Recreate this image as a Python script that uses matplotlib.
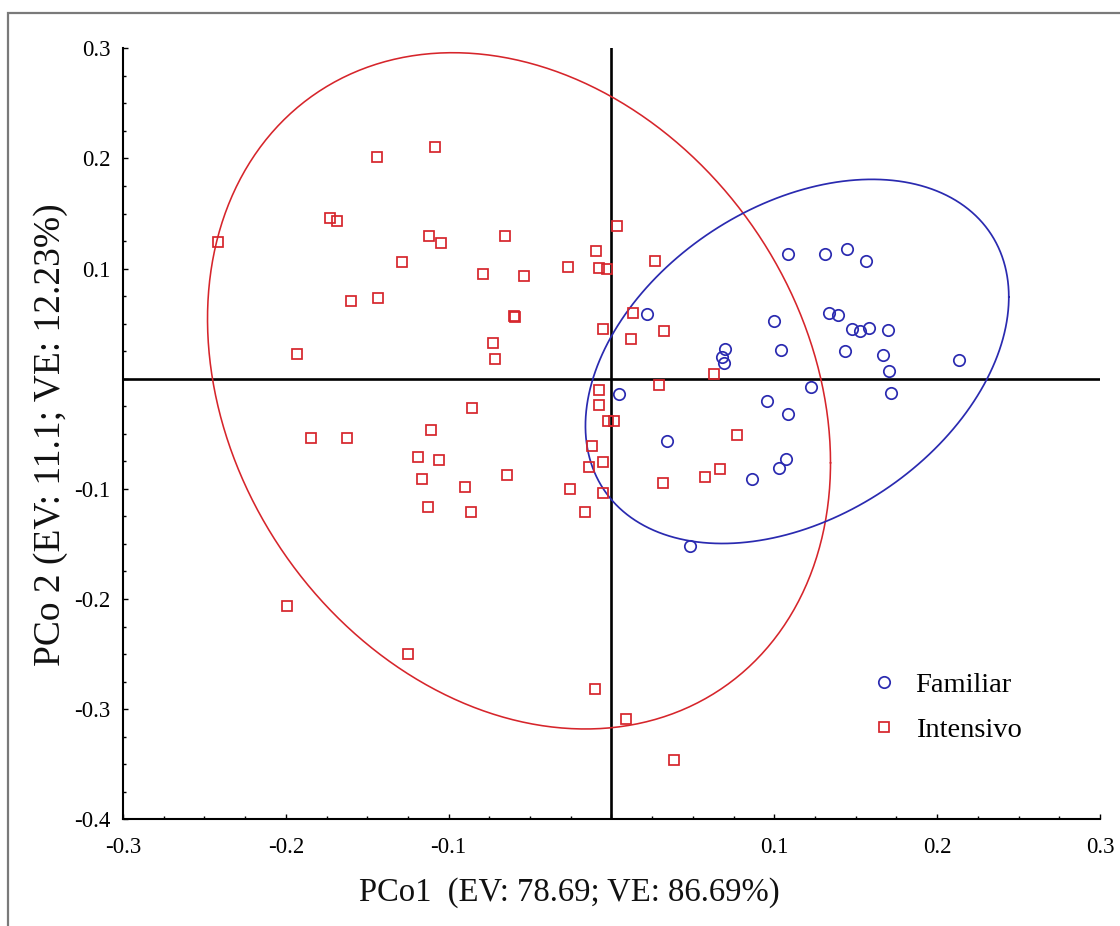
import numpy as np
import matplotlib
matplotlib.use("Agg")
import matplotlib.pyplot as plt
from matplotlib.patches import Rectangle

# ---------------- data ----------------
intensivo_x = [-0.2414, -0.1990, -0.1726, -0.1685, -0.1442, -0.1085, -0.1929, -0.1843,
               -0.1622, -0.1601, -0.1436, -0.1287, -0.1122, -0.1049, -0.0788, -0.0656,
               -0.0539, -0.0599, -0.0593, -0.0728, -0.0713, -0.0854, -0.1110, -0.1190,
               -0.1060, -0.1163, -0.1125, -0.0902, -0.0860, -0.0641, -0.1247, -0.0266,
               -0.0094, -0.0078, -0.0026, 0.0031, 0.0270, 0.0132, -0.0053, 0.0118,
               0.0324, 0.0290, 0.0631, -0.0077, -0.0078, -0.0023, 0.0014, -0.0119,
               -0.0139, -0.0054, -0.0252, -0.0053, -0.0165, 0.0318, 0.0573, 0.0668,
               0.0772, -0.0104, 0.0092, 0.0385]
intensivo_y = [0.1238, -0.2064, 0.1459, 0.1432, 0.2010, 0.2106, 0.0224, -0.0538,
               -0.0538, 0.0705, 0.0735, 0.1060, 0.1298, 0.1229, 0.0955, 0.1298,
               0.0935, 0.0569, 0.0560, 0.0326, 0.0182, -0.0268, -0.0463, -0.0714,
               -0.0738, -0.0908, -0.1167, -0.0981, -0.1208, -0.0874, -0.2500, 0.1016,
               0.1159, 0.1008, 0.0996, 0.1384, 0.1071, 0.0601, 0.0450, 0.0360,
               0.0436, -0.0059, 0.0044, -0.0098, -0.0236, -0.0387, -0.0387, -0.0614,
               -0.0799, -0.0758, -0.0999, -0.1038, -0.1212, -0.0950, -0.0893, -0.0820,
               -0.0514, -0.2820, -0.3090, -0.3459]

familiar_x = [0.0215, 0.0045, 0.0338, 0.0485, 0.0696, 0.0676, 0.0690, 0.0860,
              0.0952, 0.0996, 0.1041, 0.1086, 0.1084, 0.1028, 0.1073, 0.1224,
              0.1310, 0.1333, 0.1390, 0.1448, 0.1437, 0.1476, 0.1525, 0.1579,
              0.1562, 0.1666, 0.1697, 0.1706, 0.1714, 0.2133]
familiar_y = [0.0589, -0.0143, -0.0566, -0.1516, 0.0270, 0.0200, 0.0143, -0.0911,
              -0.0198, 0.0521, 0.0262, -0.0317, 0.1128, -0.0808, -0.0726, -0.0074,
              0.1135, 0.0599, 0.0578, 0.1175, 0.0254, 0.0449, 0.0430, 0.0460,
              0.1069, 0.0215, 0.0439, 0.0067, -0.0127, 0.0173]

# ellipse descriptors: centre, half-extent in x, half-extent in y, xy-coupling
red_ellipse = dict(cx=-0.0568, cy=-0.0110, sx=0.1913, sy=0.3070, sxy=-0.0125)
blue_ellipse = dict(cx=0.1140, cy=0.0157, sx=0.1300, sy=0.1653, sxy=0.0076)

xticks = [-0.3, -0.2, -0.1, 0.0, 0.1, 0.2, 0.3]
xticklabels = ["-0.3", "-0.2", "-0.1", "", "0.1", "0.2", "0.3"]
yticks = [-0.4, -0.3, -0.2, -0.1, 0.0, 0.1, 0.2, 0.3]
yticklabels = ["-0.4", "-0.3", "-0.2", "-0.1", "", "0.1", "0.2", "0.3"]

# ---------------- style ----------------
SERIF = ["Liberation Serif", "DejaVu Serif"]
RED = "#d6252b"
BLUE = "#2a2ab0"

W, H = 1120, 926
fig = plt.figure(figsize=(W / 100, H / 100), dpi=100)
ax = fig.add_axes([123 / W, 1 - 819.3 / H, (1100 - 123) / W, (819.3 - 48.3) / H])


def ellipse_curve(e, n=400):
    t = np.linspace(0, 2 * np.pi, n)
    sx, sy, sxy = e["sx"], e["sy"], e["sxy"]
    x = e["cx"] + sx * np.cos(t)
    y = e["cy"] + (sxy / sx) * np.cos(t) + np.sqrt(sy ** 2 - (sxy / sx) ** 2) * np.sin(t)
    return x, y


ax.axhline(0, color="black", lw=1.9, zorder=1)
ax.axvline(0, color="black", lw=1.9, zorder=1)

rx, ry = ellipse_curve(red_ellipse)
bx, by = ellipse_curve(blue_ellipse)
ax.plot(rx, ry, color=RED, lw=1.15, zorder=2)
ax.plot(bx, by, color=BLUE, lw=1.25, zorder=2)

ax.plot(familiar_x, familiar_y, linestyle="none", marker="o", ms=8.2, mfc="none",
        mec=BLUE, mew=1.25, label="Familiar", zorder=3)
ax.plot(intensivo_x, intensivo_y, linestyle="none", marker="s", ms=7.6, mfc="none",
        mec=RED, mew=1.25, label="Intensivo", zorder=3)

ax.set_xlim(-0.3, 0.3)
ax.set_ylim(-0.4, 0.3)
ax.set_xticks(xticks)
ax.set_xticklabels(xticklabels, fontfamily=SERIF, fontsize=16.5)
ax.set_yticks(yticks)
ax.set_yticklabels(yticklabels, fontfamily=SERIF, fontsize=16.5)
ax.set_xticks(np.arange(-0.3, 0.3001, 0.025), minor=True)
ax.set_yticks(np.arange(-0.4, 0.3001, 0.025), minor=True)
ax.tick_params(axis="both", which="both", direction="in", color="black", width=1.0)
ax.tick_params(axis="both", which="major", length=3.5)
ax.tick_params(axis="both", which="minor", length=2.5)
ax.tick_params(axis="x", which="major", pad=12.5)
ax.tick_params(axis="y", which="major", pad=9)

for s in ["top", "right"]:
    ax.spines[s].set_visible(False)
for s in ["left", "bottom"]:
    ax.spines[s].set_linewidth(1.5)
    ax.spines[s].set_color("black")

fig.text(569.5 / W, 1 - 893 / H, "PCo1  (EV: 78.69; VE: 86.69%)", ha="center", va="center",
         fontfamily=SERIF, fontsize=23.5, color="#111111")
fig.text(51 / W, 1 - 435 / H, "PCo 2 (EV: 11.1; VE: 12.23%)", ha="center", va="center",
         rotation=90, fontfamily=SERIF, fontsize=27, color="#111111")

leg = ax.legend(loc="center left", bbox_to_anchor=(870 / W, 1 - 707.5 / H),
                bbox_transform=fig.transFigure, frameon=False,
                prop={"family": SERIF, "size": 20.5}, handlelength=1.0,
                handletextpad=0.6, borderpad=0, borderaxespad=0, labelspacing=0.66)

fig.patches.append(Rectangle((8 / W, -0.1), 1.2, (H - 13) / H + 0.1,
                             transform=fig.transFigure, fill=False,
                             edgecolor="#7a7a7a", lw=1.6))

fig.savefig("out.png", dpi=100)
